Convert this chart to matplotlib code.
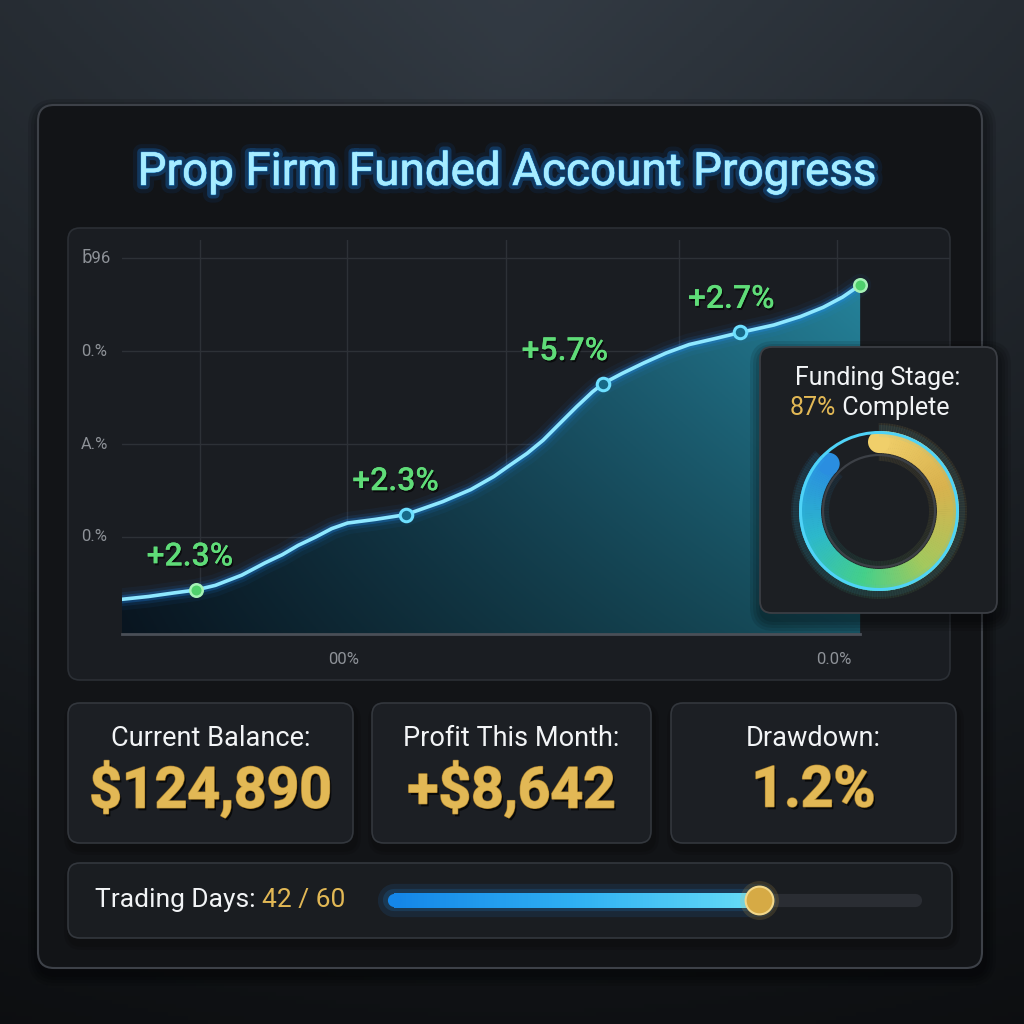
import numpy as np
import matplotlib
matplotlib.use("Agg")
import matplotlib.pyplot as plt
from matplotlib.patches import FancyBboxPatch, Circle, Wedge, Polygon
from matplotlib.collections import LineCollection
import matplotlib.patheffects as pe
from matplotlib.colors import to_rgb, LinearSegmentedColormap

# ---------------- data ----------------
day = [0.0, 1.5, 3.0, 4.2, 5.3, 6.8, 8.1, 9.1, 10.0, 11.0, 11.9, 12.8, 14.4, 16.1,
       18.2, 19.8, 21.1, 22.0, 23.0, 23.9, 24.9, 25.8, 26.7, 27.3, 28.4, 29.6, 30.9,
       32.2, 33.8, 35.1, 37.0, 38.5, 39.8, 40.9, 41.9]
growth = [0.33, 0.36, 0.40, 0.43, 0.48, 0.59, 0.72, 0.81, 0.91, 1.00, 1.09, 1.15, 1.19, 1.24,
          1.38, 1.51, 1.65, 1.77, 1.90, 2.04, 2.23, 2.40, 2.56, 2.65, 2.76, 2.87, 2.98,
          3.07, 3.14, 3.20, 3.28, 3.37, 3.47, 3.58, 3.71]
marker_day = [4.2, 16.1, 27.3, 35.1, 41.9]
marker_growth = [0.43, 1.24, 2.65, 3.20, 3.71]
gain_labels = ["+2.3%", "+2.3%", "+5.7%", "+2.7%"]
y_ticks = [1, 2, 3, 4]
y_tick_labels = ["0.%", "A.%", "0.%", "ƃ96"]
x_grid = [4.4, 12.8, 21.8, 31.6, 40.6]
x_tick_labels = ["", "00%", "", "", "0.0%"]

stat_titles = ["Current Balance:", "Profit This Month:", "Drawdown:"]
stat_values = ["$124,890", "+$8,642", "1.2%"]
funding_pct = 87
days_done = 42
days_total = 60
title = "Prop Firm Funded Account Progress"

FONT = ["Roboto", "DejaVu Sans"]
WHITE = "#f2f4f6"
GOLD = "#e2b855"
GREEN = "#5fdc78"

fig = plt.figure(figsize=(10.24, 10.24), dpi=100)
fig.patch.set_facecolor("#1b1f24")

# ---------------- background layer (pixel coords) ----------------
bg = fig.add_axes([0, 0, 1, 1], zorder=0)
bg.set_xlim(0, 1024)
bg.set_ylim(1024, 0)
bg.axis("off")

H = W = 256
yy, xx = np.mgrid[0:H, 0:W] / 255.0
top = np.array(to_rgb("#333b44"))
bot = np.array(to_rgb("#15181c"))
img = top * (1 - yy[..., None]) + bot * yy[..., None]
r = np.sqrt(((xx - 0.5) * 1.1) ** 2 + ((yy - 0.05) * 0.7) ** 2)
img = img * (1 - 0.45 * np.clip(r, 0, 1)[..., None])
bg.imshow(img, extent=[0, 1024, 1024, 0], aspect="auto", zorder=0)


def panel(ax, x0, y0, x1, y1, fc, ec, rad=14, lw=1.2, z=1, shadow=0):
    for i in range(shadow):
        g = (i + 1) * 3
        ax.add_patch(FancyBboxPatch((x0 - g + 2, y0 - g + 6), x1 - x0 + 2 * g, y1 - y0 + 2 * g,
                                    boxstyle=f"round,pad=0,rounding_size={rad + g}",
                                    fc="black", ec="none", alpha=0.10, zorder=z - 0.5))
    ax.add_patch(FancyBboxPatch((x0, y0), x1 - x0, y1 - y0,
                                boxstyle=f"round,pad=0,rounding_size={rad}",
                                fc=fc, ec=ec, lw=lw, zorder=z))


panel(bg, 38, 105, 982, 968, "#121417", "#3d4148", rad=16, lw=1.5, z=2, shadow=4)
panel(bg, 68, 228, 950, 680, "#1a1d22", "#2b2f35", rad=12, lw=1.2, z=3)
card_x = [(68, 353), (372, 651), (671, 956)]
for (x0, x1), t, v in zip(card_x, stat_titles, stat_values):
    panel(bg, x0, 703, x1, 843, "#1c1f24", "#33373d", rad=12, lw=1.2, z=3, shadow=2)
    cx = (x0 + x1) / 2
    bg.text(cx, 738, t, color=WHITE, fontsize=19.5, family=FONT, ha="center", va="center", zorder=5)
    bg.text(cx, 791, v, color=GOLD, fontsize=41, family=FONT, weight="bold",
            ha="center", va="center", zorder=5,
            path_effects=[pe.withSimplePatchShadow(offset=(1.5, -2), shadow_rgbFace="black", alpha=0.7),
                          pe.withStroke(linewidth=1.2, foreground="#b08630"), pe.Normal()])
panel(bg, 68, 863, 952, 938, "#1a1d21", "#33373d", rad=12, lw=1.2, z=3, shadow=2)

t1 = bg.text(95, 900, "Trading Days: ", color=WHITE, fontsize=19, family=FONT,
             ha="left", va="center", zorder=5)
bg.annotate(f"{days_done} / {days_total}", xy=(1, 0.5), xycoords=t1, color=GOLD, fontsize=19,
            family=FONT, ha="left", va="center", zorder=5)

# title with glow
bg.text(507, 172, title, color="#a6ecff", fontsize=33, family=FONT, ha="center", va="center", zorder=5,
        path_effects=[pe.withStroke(linewidth=12, foreground="#0a5cc0", alpha=0.10),
                      pe.withStroke(linewidth=6, foreground="#168cff", alpha=0.25),
                      pe.withStroke(linewidth=1.2, foreground="#2aa8ff", alpha=0.5),
                      pe.Normal()])

# ---------------- chart axes ----------------
ax = fig.add_axes([122 / 1024, (1024 - 635) / 1024, 828 / 1024, 395 / 1024], zorder=1)
ax.patch.set_alpha(0)
XLIM = (0, 47.0)
YLIM = (-0.054, 4.194)
for s in ax.spines.values():
    s.set_visible(False)
ax.set_yticks(y_ticks)
ax.set_xticks(x_grid)
ax.set_yticklabels([])
ax.set_xticklabels([])
ax.tick_params(length=0)
ax.grid(True, color="#2d3137", lw=1.0)
ax.set_axisbelow(True)

ylo = YLIM[0]
poly = Polygon(np.column_stack([list(day) + [day[-1], day[0]], list(growth) + [ylo, ylo]]),
               closed=True, fc="none", ec="none")
ax.add_patch(poly)
nx, ny = 256, 128
tx = np.linspace(0, 1, nx)[None, :, None]
ty = np.linspace(0, 1, ny)[:, None, None]
cl = np.array(to_rgb("#0f2233"))
cr = np.array(to_rgb("#25829a"))
grad = cl + (cr - cl) * tx
grad = grad * (0.62 + 0.38 * ty)
im = ax.imshow(np.clip(grad, 0, 1), extent=[day[0], day[-1], ylo, max(growth)], origin="lower",
               aspect="auto", zorder=1)
im.set_clip_path(poly)
ax.plot([day[0], day[-1]], [ylo + 0.01, ylo + 0.01], color="#4a4f57", lw=2, zorder=2, clip_on=False)

for lw, a in [(16, 0.05), (10, 0.10), (6, 0.25)]:
    ax.plot(day, growth, color="#1f8fff", lw=lw, alpha=a, solid_capstyle="round",
            solid_joinstyle="round", zorder=3)
ax.plot(day, growth, color="#8fe8ff", lw=2.6, solid_capstyle="round", solid_joinstyle="round", zorder=4)

for i, (mx, my) in enumerate(zip(marker_day, marker_growth)):
    if i in (0, len(marker_day) - 1):
        ax.plot(mx, my, "o", ms=9, mfc="#4fd06c", mec="#a6f2b6", mew=1.8, zorder=5)
    else:
        ax.plot(mx, my, "o", ms=9, mfc="#176a88", mec="#6ee0ff", mew=2.2, zorder=5)

label_off = [(-6, 33), (-10, 33), (-38, 32), (-9, 33)]
for (mx, my), lab, off in zip(zip(marker_day, marker_growth), gain_labels, label_off):
    ax.annotate(lab, xy=(mx, my), xytext=off, textcoords="offset pixels", color=GREEN,
                fontsize=23, family=FONT, weight="medium", ha="center", va="center", zorder=6,
                path_effects=[pe.withSimplePatchShadow(offset=(1, -1.5), shadow_rgbFace="black", alpha=0.6),
                              pe.Normal()])

ytr = ax.get_yaxis_transform()
for yv, lab in zip(y_ticks, y_tick_labels):
    ax.text(-0.0495, yv, lab, transform=ytr, color="#8e9298", fontsize=12, family=FONT,
            ha="left", va="center")
xtr = ax.get_xaxis_transform()
for xv, lab in zip(x_grid, x_tick_labels):
    if lab:
        ax.text(xv - 0.2, -0.063, lab, transform=xtr, color="#8e9298", fontsize=12, family=FONT,
                ha="center", va="center")
ax.set_xlim(*XLIM)
ax.set_ylim(*YLIM)

# ---------------- overlay: donut card ----------------
ov = fig.add_axes([0, 0, 1, 1], zorder=2)
ov.set_xlim(0, 1024)
ov.set_ylim(1024, 0)
ov.axis("off")
ov.patch.set_alpha(0)
panel(ov, 760, 347, 997, 613, "#1c1f23", "#3b3e44", rad=12, lw=1.3, z=3, shadow=4)
ov.text(878, 378, "Funding Stage:", color=WHITE, fontsize=18, family=FONT, ha="center", va="center", zorder=5)
t2 = ov.text(790, 408, f"{funding_pct}%", color=GOLD, fontsize=18, family=FONT, ha="left", va="center", zorder=5)
ov.annotate(" Complete", xy=(1, 0.5), xycoords=t2, color=WHITE, fontsize=18, family=FONT,
            ha="left", va="center", zorder=5)

dax = fig.add_axes([(879 - 110) / 1024, (1024 - 511 - 110) / 1024, 220 / 1024, 220 / 1024], zorder=3)
dax.set_xlim(-110, 110)
dax.set_ylim(-110, 110)
dax.set_aspect("equal")
dax.axis("off")
dax.patch.set_alpha(0)

ring_cmap = LinearSegmentedColormap.from_list(
    "ring", [(0, "#f0cf6a"), (0.22, "#d9b24e"), (0.45, "#a3c95e"), (0.62, "#45d08a"),
             (0.8, "#2cb8cc"), (1.0, "#2a8ee0")])
R, Wd = 80, 22
span = 360 * funding_pct / 100
N = 180
for i in range(N):
    a0 = 90 - span * i / N
    a1 = 90 - span * (i + 1) / N
    c = ring_cmap(i / (N - 1))
    dax.add_patch(Wedge((0, 0), R + 8, a1 - 0.3, a0 + 0.3, width=Wd + 16, color=c, alpha=0.07, lw=0))
    dax.add_patch(Wedge((0, 0), R, a1 - 0.3, a0 + 0.3, width=Wd, color=c, lw=0))
# rounded caps
rm = R - Wd / 2
dax.add_patch(Circle((0, rm), Wd / 2, color=ring_cmap(0.0), lw=0))
ae = np.deg2rad(90 - span)
dax.add_patch(Circle((rm * np.cos(ae), rm * np.sin(ae)), Wd / 2, color=ring_cmap(1.0), lw=0))
# remaining thin arc
dax.add_patch(Wedge((0, 0), R + 6, 90 - span, 90, width=12, color="#35c8ff", alpha=0.08, lw=0))
dax.add_patch(Wedge((0, 0), R, 90 - span, 90, width=3, color="#4fd3f7", lw=0))
dax.add_patch(Wedge((0, 0), R, 90, 90 + 360 - span, width=3, color="#4fd3f7", lw=0))
dax.add_patch(Circle((0, 0), 56, fc="none", ec="#3c4046", lw=1.6))

# ---------------- progress bar ----------------
pax = fig.add_axes([394 / 1024, (1024 - 915) / 1024, 521 / 1024, 30 / 1024], zorder=3)
pax.set_xlim(0, days_total)
pax.set_ylim(-1, 1)
pax.axis("off")
pax.patch.set_alpha(0)
BAR_LW = 9.5
pax.plot([0, days_total], [0, 0], color="#2a2d33", lw=BAR_LW, solid_capstyle="round", clip_on=False)
bar_cmap = LinearSegmentedColormap.from_list("bar", ["#1486e8", "#2fb0f2", "#66dcf6"])
pax.plot([0, days_done], [0, 0], color="#1e90ff", lw=24, alpha=0.10, solid_capstyle="round", clip_on=False)
pax.plot([0, days_done], [0, 0], color="#1e9bff", lw=16, alpha=0.15, solid_capstyle="round", clip_on=False)
xs = np.linspace(0, days_done, 121)
segs = [[(xs[i], 0), (min(xs[i + 2], days_done) if i + 2 < len(xs) else xs[i + 1], 0)]
        for i in range(len(xs) - 1)]
cols = [bar_cmap(i / (len(segs) - 1)) for i in range(len(segs))]
lc = LineCollection(segs, colors=cols, linewidths=BAR_LW, capstyle="butt", antialiaseds=False)
lc.set_clip_on(False)
pax.add_collection(lc)
pax.plot(0, 0, "o", ms=BAR_LW, mfc=bar_cmap(0.0), mec="none", clip_on=False)
pax.plot(days_done, 0, "o", ms=28, mfc="#e2b750", mec="none", alpha=0.15, clip_on=False)
pax.plot(days_done, 0, "o", ms=20, mfc="#d6aa45", mec="#f3d88a", mew=1.5, clip_on=False)

fig.savefig("out.png", dpi=100, facecolor=fig.get_facecolor())
